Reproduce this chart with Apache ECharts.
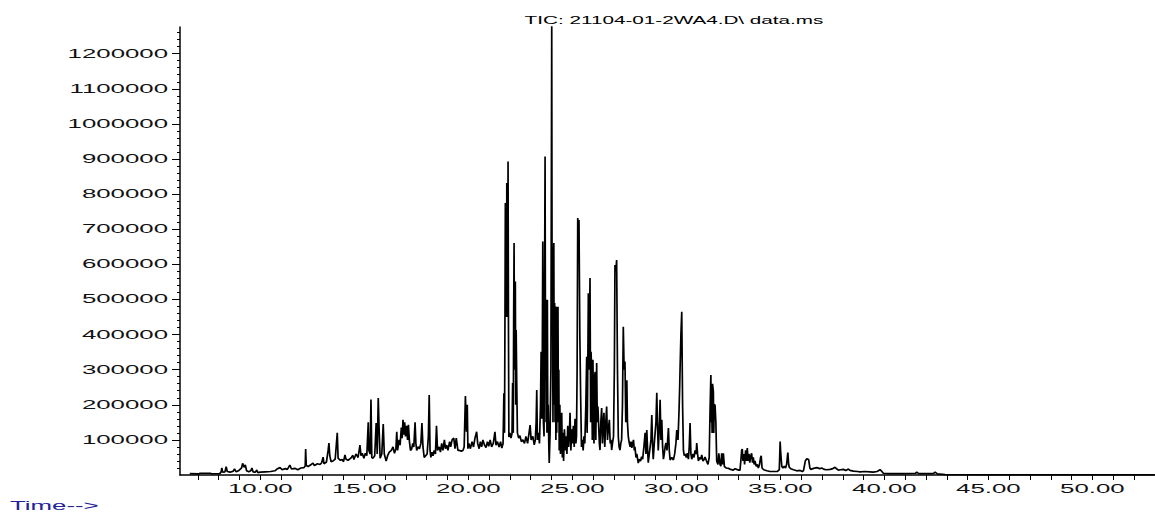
<!DOCTYPE html>
<html>
<head>
<meta charset="utf-8">
<title>TIC: 21104-01-2WA4.D\ data.ms</title>
<script src="https://cdn.jsdelivr.net/npm/echarts@6/dist/echarts.min.js"></script>
<style>
  html, body { margin: 0; padding: 0; background: #fff; }
  #chart { width: 1155px; height: 515px; }
</style>
</head>
<body>
<div id="chart"></div>
<script>
// -----------------------------------------------------------------------------
// Data: [retention time (min), abundance], split by region
// -----------------------------------------------------------------------------
const early = [
  [6.61, 4000], [7.05, 3000], [7.1, 5000], [7.6, 5000], [7.65, 3500], [8.05, 4000],
  [8.12, 9000], [8.15, 20000], [8.19, 8000], [8.3, 9000], [8.36, 24000], [8.41, 10000],
  [8.55, 8000], [8.7, 11000], [8.76, 17000], [8.84, 9000], [8.95, 12000], [9.1, 20000],
  [9.15, 33000], [9.22, 22000], [9.28, 29000], [9.34, 12000], [9.45, 9000], [9.55, 13000],
  [9.6, 20000], [9.65, 9000], [9.76, 8000], [9.83, 14000], [9.88, 7000], [10.0, 8000],
  [10.25, 9000], [10.5, 10000], [10.7, 12000], [10.8, 17000], [10.95, 21000], [11.05, 15000],
  [11.2, 18000], [11.3, 16000], [11.42, 28000], [11.5, 17000], [11.66, 19000], [11.8, 15000],
  [11.95, 20000], [12.1, 21000], [12.16, 26000], [12.18, 74000], [12.21, 27000], [12.3, 24000],
  [12.45, 30000], [12.53, 34000], [12.6, 27000], [12.75, 32000], [12.87, 30000], [12.95, 35000],
  [13.02, 51000], [13.06, 32000], [13.18, 37000], [13.26, 70000], [13.3, 91000], [13.34, 55000],
  [13.4, 38000], [13.5, 40000], [13.6, 45000], [13.7, 120000], [13.74, 48000], [13.85, 42000],
  [13.93, 44000], [14.0, 38000], [14.07, 57000], [14.12, 45000], [14.22, 42000], [14.35, 48000],
  [14.45, 56000], [14.5, 44000], [14.6, 60000], [14.7, 50000], [14.79, 85000], [14.84, 55000],
  [14.9, 62000], [14.98, 48000], [15.05, 62000]
];

const middle = [
  [15.12, 55000], [15.19, 150000], [15.22, 70000], [15.28, 60000], [15.32, 215000], [15.36, 50000],
  [15.42, 48000], [15.5, 55000], [15.57, 148000], [15.62, 60000], [15.67, 219000], [15.71, 134000],
  [15.76, 48000], [15.84, 60000], [15.91, 145000], [15.96, 60000], [16.05, 40000], [16.12, 55000],
  [16.2, 65000], [16.3, 70000], [16.38, 80000], [16.45, 62000], [16.52, 75000], [16.56, 123000],
  [16.6, 70000], [16.67, 100000], [16.72, 85000], [16.78, 135000], [16.82, 105000], [16.86, 157000],
  [16.9, 115000], [16.94, 150000], [16.98, 110000], [17.03, 140000], [17.08, 100000], [17.12, 143000],
  [17.17, 95000], [17.22, 70000], [17.28, 75000], [17.33, 90000], [17.38, 80000], [17.44, 150000],
  [17.48, 90000], [17.52, 70000], [17.58, 80000], [17.65, 75000], [17.72, 90000], [17.77, 148000],
  [17.82, 80000], [17.88, 50000], [17.95, 55000], [18.02, 60000], [18.08, 110000], [18.12, 228000],
  [18.16, 70000], [18.2, 50000], [18.25, 65000], [18.3, 55000], [18.36, 70000], [18.42, 60000],
  [18.47, 140000], [18.52, 70000], [18.6, 80000], [18.66, 65000], [18.72, 90000], [18.78, 70000],
  [18.85, 100000], [18.9, 75000], [18.96, 85000], [19.02, 70000], [19.1, 95000], [19.15, 80000],
  [19.22, 100000], [19.3, 105000], [19.36, 75000], [19.42, 105000], [19.5, 70000], [19.58, 70000],
  [19.66, 68000], [19.74, 70000], [19.8, 80000], [19.86, 225000], [19.91, 123000], [19.95, 200000],
  [19.98, 75000], [20.03, 90000], [20.1, 75000], [20.18, 95000], [20.25, 80000], [20.32, 105000],
  [20.4, 123000], [20.45, 90000], [20.52, 75000], [20.58, 95000], [20.64, 80000], [20.7, 100000],
  [20.78, 85000], [20.85, 78000], [20.92, 95000], [20.98, 82000], [21.05, 100000], [21.12, 80000],
  [21.2, 90000], [21.28, 123000], [21.33, 85000], [21.4, 95000], [21.48, 80000], [21.55, 95000],
  [21.61, 77000]
];

const main = [
  [21.67, 90000], [21.71, 233000], [21.74, 120000], [21.76, 420000], [21.78, 775000], [21.8, 450000],
  [21.82, 720000], [21.84, 500000], [21.85, 832000], [21.87, 450000], [21.89, 780000], [21.9, 500000],
  [21.91, 893000], [21.93, 420000], [21.95, 108000], [22.0, 120000], [22.05, 105000], [22.1, 118000],
  [22.13, 262000], [22.16, 120000], [22.18, 450000], [22.2, 661000], [22.22, 300000], [22.24, 400000],
  [22.26, 551000], [22.28, 200000], [22.3, 413000], [22.33, 250000], [22.36, 120000], [22.42, 105000],
  [22.48, 112000], [22.55, 95000], [22.62, 100000], [22.7, 90000], [22.77, 110000], [22.85, 90000],
  [22.92, 120000], [22.97, 142000], [23.02, 100000], [23.1, 110000], [23.17, 86000], [23.22, 100000],
  [23.26, 150000], [23.29, 242000], [23.32, 100000], [23.37, 120000], [23.42, 90000], [23.47, 200000],
  [23.5, 351000], [23.53, 160000], [23.55, 250000], [23.58, 665000], [23.61, 150000], [23.64, 110000],
  [23.66, 450000], [23.69, 907000], [23.71, 300000], [23.72, 499000], [23.74, 150000], [23.76, 480000],
  [23.78, 120000], [23.8, 499000], [23.82, 150000], [23.84, 200000], [23.87, 80000], [23.89, 34000],
  [23.93, 120000], [23.97, 300000], [24.01, 1280000], [24.03, 400000], [24.05, 527000], [24.07, 150000],
  [24.09, 580000], [24.11, 661000], [24.13, 200000], [24.15, 490000], [24.17, 150000], [24.19, 480000],
  [24.21, 100000], [24.23, 470000], [24.25, 120000], [24.27, 479000], [24.29, 200000], [24.31, 479000],
  [24.33, 150000], [24.35, 300000], [24.37, 70000], [24.4, 200000], [24.43, 60000], [24.46, 150000],
  [24.49, 177000], [24.52, 50000], [24.55, 120000], [24.58, 40000], [24.62, 130000], [24.66, 70000],
  [24.7, 110000], [24.74, 60000], [24.78, 140000], [24.82, 80000], [24.86, 120000], [24.89, 177000],
  [24.93, 70000], [24.97, 130000], [25.01, 90000], [25.05, 140000], [25.09, 80000], [25.13, 160000],
  [25.17, 90000], [25.2, 110000]
];

const late = [
  [25.23, 300000], [25.26, 732000], [25.29, 700000], [25.32, 726000], [25.36, 400000], [25.4, 222000],
  [25.44, 80000], [25.48, 100000], [25.52, 70000], [25.56, 110000], [25.6, 90000], [25.65, 200000],
  [25.69, 337000], [25.71, 120000], [25.73, 200000], [25.77, 518000], [25.8, 300000], [25.85, 561000],
  [25.88, 150000], [25.9, 351000], [25.93, 299000], [25.96, 100000], [25.99, 328000], [26.01, 328000],
  [26.04, 90000], [26.07, 280000], [26.1, 294000], [26.13, 100000], [26.17, 319000], [26.2, 150000],
  [26.23, 195000], [26.26, 195000], [26.3, 90000], [26.33, 71000], [26.37, 150000], [26.41, 191000],
  [26.45, 90000], [26.49, 150000], [26.52, 177000], [26.56, 80000], [26.6, 140000], [26.65, 195000],
  [26.69, 100000], [26.73, 130000], [26.78, 157000], [26.82, 90000], [26.86, 100000], [26.89, 71000],
  [26.93, 90000], [26.98, 110000], [27.02, 300000], [27.05, 598000], [27.09, 580000], [27.13, 612000],
  [27.17, 300000], [27.21, 109000], [27.25, 80000], [27.29, 71000], [27.33, 90000], [27.37, 100000],
  [27.41, 200000], [27.45, 422000], [27.49, 300000], [27.53, 323000], [27.57, 150000], [27.62, 270000],
  [27.65, 150000], [27.69, 109000], [27.74, 90000], [27.78, 80000], [27.82, 95000], [27.86, 77000],
  [27.9, 90000], [27.94, 100000], [27.98, 70000], [28.01, 80000], [28.06, 50000], [28.1, 60000],
  [28.17, 34000], [28.22, 45000], [28.28, 40000], [28.33, 52000], [28.38, 45000], [28.44, 80000],
  [28.5, 120000], [28.54, 60000], [28.58, 128000], [28.62, 70000], [28.65, 35000], [28.7, 60000],
  [28.74, 80000], [28.78, 100000], [28.82, 171000], [28.86, 80000], [28.89, 45000], [28.94, 90000],
  [28.98, 120000], [29.02, 150000], [29.06, 234000], [29.09, 150000], [29.13, 70000], [29.17, 120000],
  [29.22, 214000], [29.26, 100000], [29.3, 157000], [29.34, 80000], [29.38, 45000], [29.42, 60000],
  [29.46, 80000], [29.5, 91000], [29.55, 70000], [29.62, 134000], [29.66, 70000], [29.7, 43000],
  [29.78, 50000], [29.86, 43000], [29.92, 60000], [29.98, 90000], [30.02, 128000], [30.08, 100000],
  [30.13, 185000], [30.16, 250000], [30.18, 304000], [30.22, 400000], [30.26, 465000], [30.3, 200000],
  [30.34, 71000], [30.38, 55000], [30.42, 60000], [30.48, 50000], [30.53, 62000], [30.58, 45000],
  [30.62, 80000], [30.66, 148000], [30.7, 60000], [30.74, 45000], [30.8, 60000], [30.85, 50000],
  [30.9, 70000], [30.95, 60000], [30.98, 91000], [31.02, 60000], [31.06, 40000], [31.12, 50000],
  [31.18, 45000], [31.22, 57000], [31.28, 40000], [31.34, 45000], [31.38, 51000], [31.45, 40000],
  [31.52, 30000], [31.58, 50000], [31.62, 180000], [31.66, 285000], [31.68, 150000], [31.7, 200000],
  [31.72, 120000], [31.74, 260000], [31.78, 237000], [31.8, 120000], [31.82, 200000], [31.86, 199000],
  [31.9, 150000], [31.94, 40000], [32.0, 30000], [32.04, 62000], [32.07, 62000], [32.1, 30000],
  [32.14, 25000], [32.18, 62000], [32.22, 30000], [32.26, 62000], [32.29, 40000], [32.31, 24000]
];

const tail = [
  [32.4, 20000], [32.5, 19000], [32.6, 16000], [32.74, 14000], [32.82, 18000], [32.9, 16000],
  [33.0, 14000], [33.06, 14000], [33.1, 40000], [33.14, 70000], [33.17, 74000], [33.2, 40000],
  [33.25, 60000], [33.28, 30000], [33.33, 70000], [33.37, 40000], [33.41, 77000], [33.45, 40000],
  [33.49, 60000], [33.53, 35000], [33.58, 55000], [33.62, 62000], [33.66, 35000], [33.7, 50000],
  [33.74, 30000], [33.78, 40000], [33.84, 25000], [33.9, 30000], [33.94, 20000], [34.0, 30000],
  [34.05, 50000], [34.08, 55000], [34.12, 20000], [34.2, 15000], [34.35, 12000], [34.5, 10000],
  [34.66, 10000], [34.86, 10000], [34.95, 15000], [34.99, 95000], [35.02, 60000], [35.07, 25000],
  [35.12, 20000], [35.19, 25000], [35.25, 20000], [35.3, 30000], [35.36, 64000], [35.4, 30000],
  [35.43, 22000], [35.5, 18000], [35.63, 15000], [35.79, 12000], [35.95, 13000], [36.05, 10000],
  [36.11, 12000], [36.2, 40000], [36.27, 46000], [36.36, 44000], [36.42, 20000], [36.46, 16000],
  [36.6, 19000], [36.75, 21000], [36.9, 18000], [36.99, 20000], [37.1, 16000], [37.23, 15000],
  [37.4, 16000], [37.55, 19000], [37.63, 22000], [37.72, 17000], [37.79, 14000], [37.9, 15000],
  [38.03, 16000], [38.15, 13000], [38.27, 17000], [38.35, 13000], [38.51, 11000], [38.7, 10000],
  [38.83, 9000], [39.07, 10000], [39.3, 9000], [39.47, 8000], [39.65, 10000], [39.79, 15000],
  [39.88, 10000], [39.95, 5000], [40.27, 4000], [41.0, 4000], [41.5, 5000], [41.56, 8000],
  [41.65, 4000], [42.35, 4000], [42.44, 8000], [42.55, 3000], [42.92, 1000], [45.0, 500],
  [53.0, 500]
];

// Tick labels
const xLabels = [10, 15, 20, 25, 30, 35, 40, 45, 50];
const yLabels = [100000, 200000, 300000, 400000, 500000, 600000, 700000, 800000, 900000,
  1000000, 1100000, 1200000];

const titleText = "TIC: 21104-01-2WA4.D\\ data.ms";
const timeText = "Time-->";

// -----------------------------------------------------------------------------
// Chart
// -----------------------------------------------------------------------------
const trace = early.concat(middle, main, late, tail);

const xMinor = [];
for (let t = 7; t <= 53; t++) xMinor.push(t);
const yMinor = [];
for (let v = 20000; v <= 1260000; v += 20000) yMinor.push(v);

const chartDom = document.getElementById("chart");
const myChart = echarts.init(chartDom, null, { renderer: "svg" });

const labelFont = {
  color: "#111",
  fontFamily: "Liberation Sans, Arial, sans-serif",
  fontSize: 12,
};

const option = {
  animation: false,
  backgroundColor: "#fff",
  grid: { left: 180, right: 0, top: 27, bottom: 40 },
  graphic: [
    {
      type: "text",
      x: 674,
      y: 20,
      style: {
        text: titleText,
        align: "center",
        verticalAlign: "middle",
        fill: "#000",
        font: "11px 'Liberation Sans', Arial, sans-serif",
      },
    },
    {
      type: "text",
      x: 10,
      y: 500,
      style: {
        text: timeText,
        align: "left",
        verticalAlign: "top",
        fill: "#22229a",
        font: "12px 'Liberation Sans', Arial, sans-serif",
      },
    },
  ],
  xAxis: {
    type: "value",
    min: 6.14,
    max: 53.01,
    axisLine: { show: true, onZero: false, lineStyle: { color: "#000", width: 1.5 } },
    axisTick: {
      show: true,
      length: 5,
      customValues: xMinor,
      lineStyle: { color: "#000", width: 1 },
    },
    axisLabel: {
      ...labelFont,
      margin: 8,
      customValues: xLabels,
      formatter: (v) => v.toFixed(2),
    },
    splitLine: { show: false },
  },
  yAxis: [
    {
      type: "value",
      min: 0,
      max: 1276000,
      position: "left",
      axisLine: { show: true, lineStyle: { color: "#000", width: 1.5 } },
      axisTick: {
        show: true,
        length: 8,
        customValues: yLabels,
        lineStyle: { color: "#000", width: 1 },
      },
      axisLabel: {
        ...labelFont,
        margin: 12,
        customValues: yLabels,
        formatter: (v) => String(v),
      },
      splitLine: { show: false },
    },
    {
      type: "value",
      min: 0,
      max: 1276000,
      position: "left",
      axisLine: { show: false },
      axisTick: {
        show: true,
        length: 3,
        customValues: yMinor,
        lineStyle: { color: "#000", width: 1 },
      },
      axisLabel: { show: false },
      splitLine: { show: false },
    },
  ],
  series: [
    {
      type: "line",
      data: trace,
      yAxisIndex: 0,
      showSymbol: false,
      symbol: "none",
      sampling: "none",
      lineStyle: { color: "#000", width: 1.7 },
      silent: true,
    },
  ],
};

myChart.setOption(option);

// The source plot is stretched horizontally; widen the glyphs to match
const stretchText = () => {
  chartDom.querySelectorAll("svg text").forEach((el) => {
    if (el.hasAttribute("textLength")) return;
    const k = el.textContent.startsWith("TIC") ? 1.88 : 2.15;
    const w = el.getComputedTextLength();
    if (w > 0) {
      el.setAttribute("textLength", (w * k).toFixed(1));
      el.setAttribute("lengthAdjust", "spacingAndGlyphs");
    }
  });
};
stretchText();
myChart.on("finished", stretchText);
setTimeout(stretchText, 50);
</script>
</body>
</html>
